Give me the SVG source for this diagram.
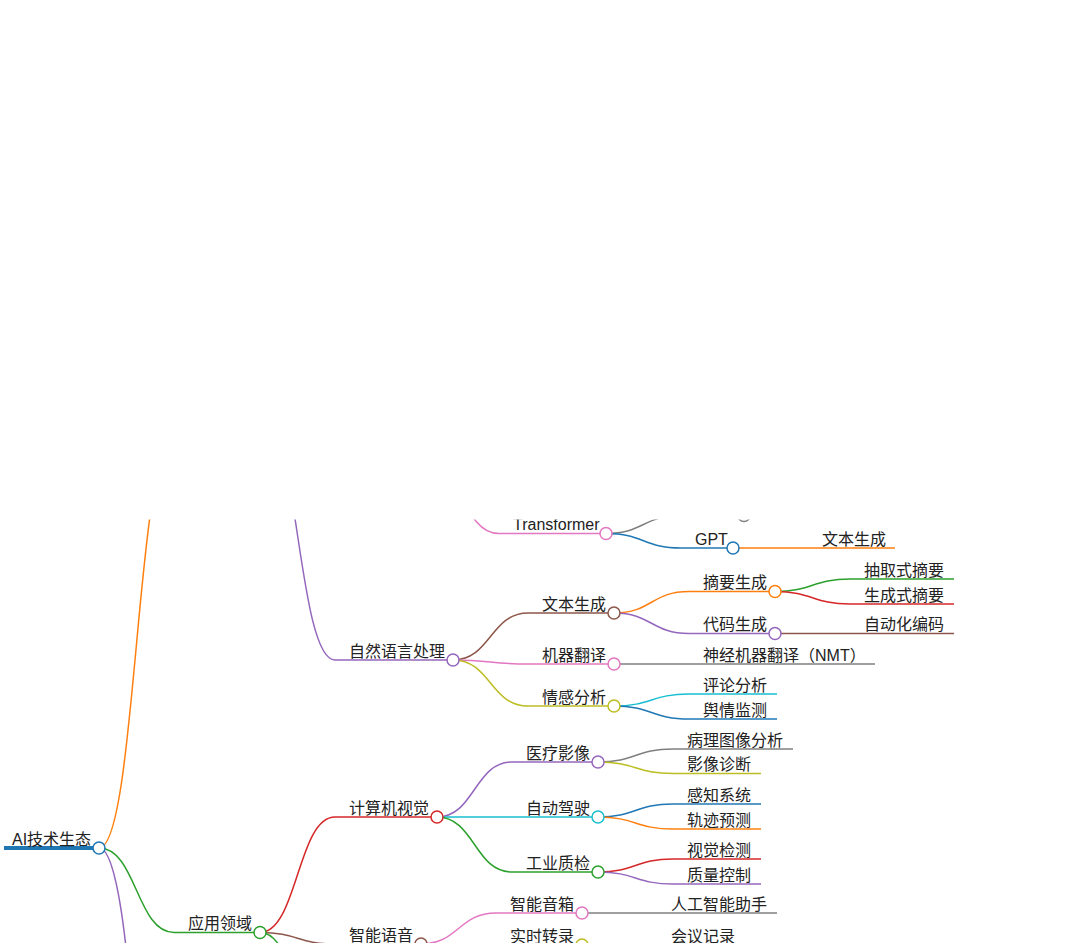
<svg xmlns="http://www.w3.org/2000/svg" width="1082" height="947" viewBox="0 0 1082 947">
<style>
.l{fill:none;stroke-width:1.5}
.u{stroke-width:1.5;fill:none}
.c{fill:#fff;stroke-width:1.5}
.t{font-family:"Liberation Sans","Noto Sans CJK SC",sans-serif;font-size:16px;fill:#222}
</style>
<defs>
<clipPath id="vp"><rect x="0" y="519.5" width="1082" height="423.5"/></clipPath>
</defs>
<rect width="1082" height="947" fill="#fff"/>
<g clip-path="url(#vp)">
<g id="connectors">
<path class="l" stroke="#ff7f0e" d="M99,848 C136.5,848 136.5,440 174,440"/>
<path class="l" stroke="#2ca02c" d="M99,848 C136.5,848 136.5,932.5 174,932.5"/>
<path class="l" stroke="#9467bd" d="M99,848 C136.5,848 136.5,1252 174,1252"/>
<path class="l" stroke="#9467bd" d="M260,410 C297.5,410 297.5,660 335,660"/>
<path class="l" stroke="#e377c2" d="M423,458 C461,458 461,533.5 499,533.5"/>
<path class="l" stroke="#7f7f7f" d="M606,533.5 C643.5,533.5 643.5,515.5 681,515.5"/>
<path class="l" stroke="#1f77b4" d="M606,533.5 C643.5,533.5 643.5,548 681,548"/>
<path class="l" stroke="#ff7f0e" d="M733,548 L808,548"/>
<path class="l" stroke="#8c564b" d="M453,660 C490.5,660 490.5,613 528,613"/>
<path class="l" stroke="#e377c2" d="M453,660 C490.5,660 490.5,664 528,664"/>
<path class="l" stroke="#bcbd22" d="M453,660 C490.5,660 490.5,706 528,706"/>
<path class="l" stroke="#ff7f0e" d="M614,613 C651.5,613 651.5,591.5 689,591.5"/>
<path class="l" stroke="#9467bd" d="M614,613 C651.5,613 651.5,633.5 689,633.5"/>
<path class="l" stroke="#2ca02c" d="M775,591.5 C812.5,591.5 812.5,579 850,579"/>
<path class="l" stroke="#d62728" d="M775,591.5 C812.5,591.5 812.5,604 850,604"/>
<path class="l" stroke="#8c564b" d="M775,633.5 L850,633.5"/>
<path class="l" stroke="#7f7f7f" d="M614,664 L689,664"/>
<path class="l" stroke="#17becf" d="M614,706 C651.5,706 651.5,694 689,694"/>
<path class="l" stroke="#1f77b4" d="M614,706 C651.5,706 651.5,719 689,719"/>
<path class="l" stroke="#d62728" d="M260,932.5 C297.5,932.5 297.5,817 335,817"/>
<path class="l" stroke="#8c564b" d="M260,932.5 C297.5,932.5 297.5,944 335,944"/>
<path class="l" stroke="#2ca02c" d="M260,932.5 C297.5,932.5 297.5,1046 335,1046"/>
<path class="l" stroke="#9467bd" d="M437,817 C474.5,817 474.5,762 512,762"/>
<path class="l" stroke="#17becf" d="M437,817 L512,817"/>
<path class="l" stroke="#2ca02c" d="M437,817 C474.5,817 474.5,872 512,872"/>
<path class="l" stroke="#7f7f7f" d="M598,762 C635.5,762 635.5,749 673,749"/>
<path class="l" stroke="#bcbd22" d="M598,762 C635.5,762 635.5,773.5 673,773.5"/>
<path class="l" stroke="#1f77b4" d="M598,817 C635.5,817 635.5,804 673,804"/>
<path class="l" stroke="#ff7f0e" d="M598,817 C635.5,817 635.5,829 673,829"/>
<path class="l" stroke="#d62728" d="M598,872 C635.5,872 635.5,859 673,859"/>
<path class="l" stroke="#9467bd" d="M598,872 C635.5,872 635.5,884 673,884"/>
<path class="l" stroke="#e377c2" d="M421,944 C458.5,944 458.5,913 496,913"/>
<path class="l" stroke="#bcbd22" d="M421,944 C458.5,944 458.5,945 496,945"/>
<path class="l" stroke="#7f7f7f" d="M582,913 L657,913"/>
<path class="l" stroke="#8c564b" d="M582,945 L657,945"/>
</g>
<g id="n-root">
<line x1="4" y1="848" x2="99" y2="848" stroke="#1f77b4" stroke-width="4"/>
<circle class="c" cx="99" cy="848" r="6" stroke="#1f77b4"/>
<text class="t" x="12" y="844.5">AI技术生态</text>
</g>
<g id="n-transformer">
<line class="u" x1="499" y1="533.5" x2="606" y2="533.5" stroke="#e377c2"/>
<circle class="c" cx="606" cy="533.5" r="6" stroke="#e377c2"/>
<text class="t" x="513" y="530">Transformer</text>
</g>
<g id="n-hidden-gray">
<line class="u" x1="681" y1="515.5" x2="744" y2="515.5" stroke="#7f7f7f"/>
<circle class="c" cx="744" cy="515.5" r="6" stroke="#7f7f7f"/>
</g>
<g id="n-gpt">
<line class="u" x1="681" y1="548" x2="733" y2="548" stroke="#1f77b4"/>
<circle class="c" cx="733" cy="548" r="6" stroke="#1f77b4"/>
<text class="t" x="695" y="544.5">GPT</text>
</g>
<g id="n-gpt-textgen">
<line class="u" x1="808" y1="548" x2="895" y2="548" stroke="#ff7f0e"/>
<text class="t" x="822" y="544.5">文本生成</text>
</g>
<g id="n-nlp">
<line class="u" x1="335" y1="660" x2="453" y2="660" stroke="#9467bd"/>
<circle class="c" cx="453" cy="660" r="6" stroke="#9467bd"/>
<text class="t" x="349" y="656.5">自然语言处理</text>
</g>
<g id="n-textgen">
<line class="u" x1="528" y1="613" x2="614" y2="613" stroke="#8c564b"/>
<circle class="c" cx="614" cy="613" r="6" stroke="#8c564b"/>
<text class="t" x="542" y="609.5">文本生成</text>
</g>
<g id="n-summary">
<line class="u" x1="689" y1="591.5" x2="775" y2="591.5" stroke="#ff7f0e"/>
<circle class="c" cx="775" cy="591.5" r="6" stroke="#ff7f0e"/>
<text class="t" x="703" y="588">摘要生成</text>
</g>
<g id="n-extractive">
<line class="u" x1="850" y1="579" x2="954" y2="579" stroke="#2ca02c"/>
<text class="t" x="864" y="575.5">抽取式摘要</text>
</g>
<g id="n-abstractive">
<line class="u" x1="850" y1="604" x2="954" y2="604" stroke="#d62728"/>
<text class="t" x="864" y="600.5">生成式摘要</text>
</g>
<g id="n-codegen">
<line class="u" x1="689" y1="633.5" x2="775" y2="633.5" stroke="#9467bd"/>
<circle class="c" cx="775" cy="633.5" r="6" stroke="#9467bd"/>
<text class="t" x="703" y="630">代码生成</text>
</g>
<g id="n-autocode">
<line class="u" x1="850" y1="633.5" x2="954" y2="633.5" stroke="#8c564b"/>
<text class="t" x="864" y="630">自动化编码</text>
</g>
<g id="n-mt">
<line class="u" x1="528" y1="664" x2="614" y2="664" stroke="#e377c2"/>
<circle class="c" cx="614" cy="664" r="6" stroke="#e377c2"/>
<text class="t" x="542" y="660.5">机器翻译</text>
</g>
<g id="n-nmt">
<line class="u" x1="689" y1="664" x2="875" y2="664" stroke="#7f7f7f"/>
<text class="t" x="703" y="660.5">神经机器翻译（NMT）</text>
</g>
<g id="n-sentiment">
<line class="u" x1="528" y1="706" x2="614" y2="706" stroke="#bcbd22"/>
<circle class="c" cx="614" cy="706" r="6" stroke="#bcbd22"/>
<text class="t" x="542" y="702.5">情感分析</text>
</g>
<g id="n-review">
<line class="u" x1="689" y1="694" x2="777" y2="694" stroke="#17becf"/>
<text class="t" x="703" y="690.5">评论分析</text>
</g>
<g id="n-opinion">
<line class="u" x1="689" y1="719" x2="777" y2="719" stroke="#1f77b4"/>
<text class="t" x="703" y="715.5">舆情监测</text>
</g>
<g id="n-app">
<line class="u" x1="174" y1="932.5" x2="260" y2="932.5" stroke="#2ca02c"/>
<circle class="c" cx="260" cy="932.5" r="6" stroke="#2ca02c"/>
<text class="t" x="188" y="929">应用领域</text>
</g>
<g id="n-cv">
<line class="u" x1="335" y1="817" x2="437" y2="817" stroke="#d62728"/>
<circle class="c" cx="437" cy="817" r="6" stroke="#d62728"/>
<text class="t" x="349" y="813.5">计算机视觉</text>
</g>
<g id="n-medical">
<line class="u" x1="512" y1="762" x2="598" y2="762" stroke="#9467bd"/>
<circle class="c" cx="598" cy="762" r="6" stroke="#9467bd"/>
<text class="t" x="526" y="758.5">医疗影像</text>
</g>
<g id="n-patho">
<line class="u" x1="673" y1="749" x2="793" y2="749" stroke="#7f7f7f"/>
<text class="t" x="687" y="745.5">病理图像分析</text>
</g>
<g id="n-diag">
<line class="u" x1="673" y1="773.5" x2="761" y2="773.5" stroke="#bcbd22"/>
<text class="t" x="687" y="770">影像诊断</text>
</g>
<g id="n-drive">
<line class="u" x1="512" y1="817" x2="598" y2="817" stroke="#17becf"/>
<circle class="c" cx="598" cy="817" r="6" stroke="#17becf"/>
<text class="t" x="526" y="813.5">自动驾驶</text>
</g>
<g id="n-percep">
<line class="u" x1="673" y1="804" x2="761" y2="804" stroke="#1f77b4"/>
<text class="t" x="687" y="800.5">感知系统</text>
</g>
<g id="n-traj">
<line class="u" x1="673" y1="829" x2="761" y2="829" stroke="#ff7f0e"/>
<text class="t" x="687" y="825.5">轨迹预测</text>
</g>
<g id="n-qc">
<line class="u" x1="512" y1="872" x2="598" y2="872" stroke="#2ca02c"/>
<circle class="c" cx="598" cy="872" r="6" stroke="#2ca02c"/>
<text class="t" x="526" y="868.5">工业质检</text>
</g>
<g id="n-visdet">
<line class="u" x1="673" y1="859" x2="761" y2="859" stroke="#d62728"/>
<text class="t" x="687" y="855.5">视觉检测</text>
</g>
<g id="n-qctrl">
<line class="u" x1="673" y1="884" x2="761" y2="884" stroke="#9467bd"/>
<text class="t" x="687" y="880.5">质量控制</text>
</g>
<g id="n-voice">
<line class="u" x1="335" y1="944" x2="421" y2="944" stroke="#8c564b"/>
<circle class="c" cx="421" cy="944" r="6" stroke="#8c564b"/>
<text class="t" x="349" y="940.5">智能语音</text>
</g>
<g id="n-speaker">
<line class="u" x1="496" y1="913" x2="582" y2="913" stroke="#e377c2"/>
<circle class="c" cx="582" cy="913" r="6" stroke="#e377c2"/>
<text class="t" x="510" y="909.5">智能音箱</text>
</g>
<g id="n-assistant">
<line class="u" x1="657" y1="913" x2="777" y2="913" stroke="#7f7f7f"/>
<text class="t" x="671" y="909.5">人工智能助手</text>
</g>
<g id="n-transcribe">
<line class="u" x1="496" y1="945" x2="582" y2="945" stroke="#bcbd22"/>
<circle class="c" cx="582" cy="945" r="6" stroke="#bcbd22"/>
<text class="t" x="510" y="941.5">实时转录</text>
</g>
<g id="n-meeting">
<line class="u" x1="657" y1="945" x2="745" y2="945" stroke="#8c564b"/>
<text class="t" x="671" y="941.5">会议记录</text>
</g>
</g>
</svg>
